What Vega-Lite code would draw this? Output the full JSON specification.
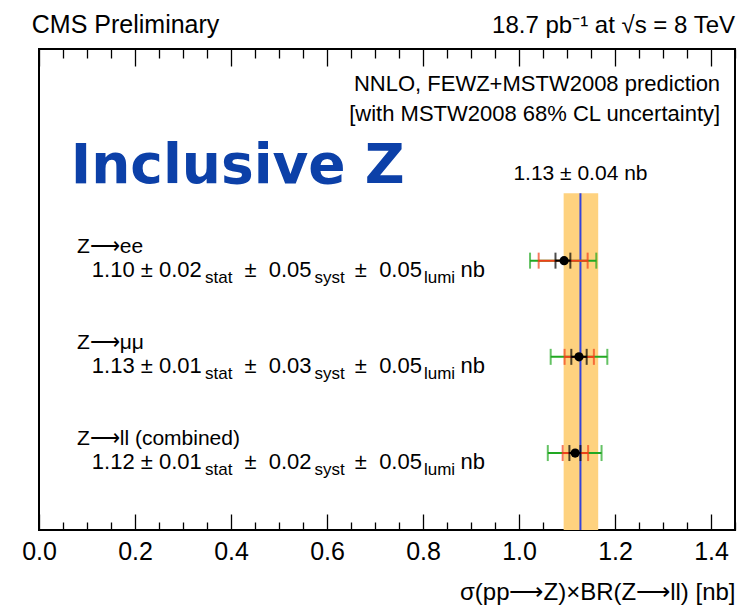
{
  "$schema": "https://vega.github.io/schema/vega-lite/v6.json",
  "width": 696,
  "height": 481,
  "autosize": {"type": "none"},
  "padding": {"left": 39, "top": 49, "right": 4, "bottom": 78},
  "background": "white",
  "config": {
    "view": {"stroke": "black", "strokeWidth": 2},
    "font": "Liberation Sans"
  },
  "datasets": {
    "band": [{"lo": 1.093, "hi": 1.165, "center": 1.128, "top": 3.5, "bottom": 0}],
    "bars": [
      {"channel": "ee", "level": "total", "lo": 1.023, "hi": 1.161, "y": 2.8},
      {"channel": "mumu", "level": "total", "lo": 1.066, "hi": 1.184, "y": 1.8},
      {"channel": "ll", "level": "total", "lo": 1.060, "hi": 1.172, "y": 0.8},
      {"channel": "ee", "level": "stat+syst", "lo": 1.041, "hi": 1.143, "y": 2.8},
      {"channel": "mumu", "level": "stat+syst", "lo": 1.095, "hi": 1.156, "y": 1.8},
      {"channel": "ll", "level": "stat+syst", "lo": 1.091, "hi": 1.144, "y": 0.8},
      {"channel": "ee", "level": "stat", "lo": 1.076, "hi": 1.107, "y": 2.8},
      {"channel": "mumu", "level": "stat", "lo": 1.109, "hi": 1.141, "y": 1.8},
      {"channel": "ll", "level": "stat", "lo": 1.105, "hi": 1.128, "y": 0.8}
    ],
    "points": [
      {"channel": "ee", "value": 1.094, "y": 2.8},
      {"channel": "mumu", "value": 1.125, "y": 1.8},
      {"channel": "ll", "value": 1.117, "y": 0.8}
    ],
    "labels": [
      {"role": "headerLeft", "text": "CMS Preliminary", "x": -0.015, "y": 5.166},
      {"role": "headerRight", "text": "18.7 pb⁻¹  at √s = 8 TeV", "x": 1.45, "y": 5.166},
      {"role": "note", "text": "NNLO, FEWZ+MSTW2008 prediction", "x": 1.419, "y": 4.563},
      {"role": "note", "text": "[with MSTW2008 68% CL uncertainty]", "x": 1.419, "y": 4.252},
      {"role": "title", "text": "Inclusive Z", "x": 0.066, "y": 3.607},
      {"role": "prediction", "text": "1.13 ± 0.04 nb", "x": 1.128, "y": 3.64},
      {"role": "channel", "text": "Z⟶ee", "x": 0.079, "y": 2.88},
      {"role": "channel", "text": "Z⟶μμ", "x": 0.079, "y": 1.88},
      {"role": "channel", "text": "Z⟶ll (combined)", "x": 0.079, "y": 0.88},
      {"role": "value", "text": "1.10 ± 0.02", "x": 0.110, "y": 2.63},
      {"role": "sub", "text": "stat", "x": 0.346, "y": 2.63},
      {"role": "value", "text": "±\u00a0\u00a00.05", "x": 0.428, "y": 2.63},
      {"role": "sub", "text": "syst", "x": 0.574, "y": 2.63},
      {"role": "value", "text": "±\u00a0\u00a00.05", "x": 0.658, "y": 2.63},
      {"role": "sub", "text": "lumi", "x": 0.802, "y": 2.63},
      {"role": "value", "text": "nb", "x": 0.878, "y": 2.63},
      {"role": "value", "text": "1.13 ± 0.01", "x": 0.110, "y": 1.63},
      {"role": "sub", "text": "stat", "x": 0.346, "y": 1.63},
      {"role": "value", "text": "±\u00a0\u00a00.03", "x": 0.428, "y": 1.63},
      {"role": "sub", "text": "syst", "x": 0.574, "y": 1.63},
      {"role": "value", "text": "±\u00a0\u00a00.05", "x": 0.658, "y": 1.63},
      {"role": "sub", "text": "lumi", "x": 0.802, "y": 1.63},
      {"role": "value", "text": "nb", "x": 0.878, "y": 1.63},
      {"role": "value", "text": "1.12 ± 0.01", "x": 0.110, "y": 0.63},
      {"role": "sub", "text": "stat", "x": 0.346, "y": 0.63},
      {"role": "value", "text": "±\u00a0\u00a00.02", "x": 0.428, "y": 0.63},
      {"role": "sub", "text": "syst", "x": 0.574, "y": 0.63},
      {"role": "value", "text": "±\u00a0\u00a00.05", "x": 0.658, "y": 0.63},
      {"role": "sub", "text": "lumi", "x": 0.802, "y": 0.63},
      {"role": "value", "text": "nb", "x": 0.878, "y": 0.63}
    ]
  },
  "resolve": {"axis": {"x": "independent"}},
  "layer": [
    {
      "data": {"name": "band"},
      "mark": {"type": "rect", "color": "#fed27f"},
      "encoding": {
        "x": {
          "field": "lo", "type": "quantitative",
          "scale": {"domain": [0, 1.45], "nice": false, "zero": false},
          "axis": {
            "orient": "bottom",
            "values": [0, 0.2, 0.4, 0.6, 0.8, 1.0, 1.2, 1.4],
            "format": ".1f",
            "domain": false,
            "grid": false,
            "tickSize": -16,
            "tickWidth": 1.3,
            "tickColor": "black",
            "labelFont": "Liberation Sans",
            "labelFontSize": 25,
            "labelColor": "black",
            "labelPadding": 25,
            "labelFlush": false,
            "title": "σ(pp⟶Z)×BR(Z⟶ll) [nb]",
            "titleFont": "Liberation Sans",
            "titleFontSize": 24,
            "titleFontWeight": "normal",
            "titleColor": "black",
            "titleAnchor": "end",
            "titlePadding": 16
          }
        },
        "x2": {"field": "hi"},
        "y": {"field": "top", "type": "quantitative", "scale": {"domain": [0, 5], "nice": false, "zero": false}, "axis": null},
        "y2": {"field": "bottom"}
      }
    },
    {
      "data": {"name": "band"},
      "mark": {"type": "rule", "color": "#3344dd", "strokeWidth": 2},
      "encoding": {
        "x": {
          "field": "center", "type": "quantitative",
          "axis": {
            "orient": "bottom",
            "values": [0.05, 0.1, 0.15, 0.25, 0.3, 0.35, 0.45, 0.5, 0.55, 0.65, 0.7, 0.75, 0.85, 0.9, 0.95, 1.05, 1.1, 1.15, 1.25, 1.3, 1.35, 1.45],
            "labels": false,
            "domain": false,
            "grid": false,
            "tickSize": -8,
            "tickWidth": 1.3,
            "tickColor": "black",
            "title": null
          }
        },
        "y": {"field": "top", "type": "quantitative"},
        "y2": {"field": "bottom"}
      }
    },
    {
      "data": {"name": "bars"},
      "mark": {"type": "rule", "strokeWidth": 2},
      "encoding": {
        "x": {
          "field": "lo", "type": "quantitative",
          "axis": {
            "orient": "top",
            "values": [0, 0.2, 0.4, 0.6, 0.8, 1.0, 1.2, 1.4],
            "labels": false,
            "domain": false,
            "grid": false,
            "tickSize": -17,
            "tickWidth": 1.3,
            "tickColor": "black",
            "title": null
          }
        },
        "x2": {"field": "hi"},
        "y": {"field": "y", "type": "quantitative"},
        "color": {
          "field": "level", "type": "nominal",
          "scale": {"domain": ["total", "stat+syst", "stat"], "range": ["#22a822", "#f2401a", "#000000"]},
          "legend": null
        }
      }
    },
    {
      "data": {"name": "bars"},
      "transform": [{"fold": ["lo", "hi"], "as": ["end", "pos"]}],
      "mark": {"type": "tick", "orient": "vertical", "size": 16, "thickness": 2},
      "encoding": {
        "x": {
          "field": "pos", "type": "quantitative",
          "axis": {
            "orient": "top",
            "values": [0.05, 0.1, 0.15, 0.25, 0.3, 0.35, 0.45, 0.5, 0.55, 0.65, 0.7, 0.75, 0.85, 0.9, 0.95, 1.05, 1.1, 1.15, 1.25, 1.3, 1.35, 1.45],
            "labels": false,
            "domain": false,
            "grid": false,
            "tickSize": -9,
            "tickWidth": 1.3,
            "tickColor": "black",
            "title": null
          }
        },
        "y": {"field": "y", "type": "quantitative"},
        "color": {"field": "level", "type": "nominal", "legend": null}
      }
    },
    {
      "data": {"name": "points"},
      "mark": {"type": "point", "filled": true, "color": "black", "size": 85, "opacity": 1},
      "encoding": {
        "x": {"field": "value", "type": "quantitative", "axis": null},
        "y": {"field": "y", "type": "quantitative"}
      }
    },
    {
      "data": {"name": "labels"},
      "transform": [{"filter": "datum.role === 'headerLeft'"}],
      "mark": {"type": "text", "align": "left", "baseline": "alphabetic", "font": "Liberation Sans", "fontSize": 25, "color": "black"},
      "encoding": {
        "x": {"field": "x", "type": "quantitative", "axis": null},
        "y": {"field": "y", "type": "quantitative"},
        "text": {"field": "text"}
      }
    },
    {
      "data": {"name": "labels"},
      "transform": [{"filter": "datum.role === 'headerRight'"}],
      "mark": {"type": "text", "align": "right", "baseline": "alphabetic", "font": "Liberation Sans", "fontSize": 24, "color": "black"},
      "encoding": {
        "x": {"field": "x", "type": "quantitative", "axis": null},
        "y": {"field": "y", "type": "quantitative"},
        "text": {"field": "text"}
      }
    },
    {
      "data": {"name": "labels"},
      "transform": [{"filter": "datum.role === 'note'"}],
      "mark": {"type": "text", "align": "right", "baseline": "alphabetic", "font": "Liberation Sans", "fontSize": 22, "color": "black"},
      "encoding": {
        "x": {"field": "x", "type": "quantitative", "axis": null},
        "y": {"field": "y", "type": "quantitative"},
        "text": {"field": "text"}
      }
    },
    {
      "data": {"name": "labels"},
      "transform": [{"filter": "datum.role === 'title'"}],
      "mark": {"type": "text", "align": "left", "baseline": "alphabetic", "font": "DejaVu Sans", "fontWeight": "bold", "fontSize": 55, "color": "#0c40a8"},
      "encoding": {
        "x": {"field": "x", "type": "quantitative", "axis": null},
        "y": {"field": "y", "type": "quantitative"},
        "text": {"field": "text"}
      }
    },
    {
      "data": {"name": "labels"},
      "transform": [{"filter": "datum.role === 'prediction'"}],
      "mark": {"type": "text", "align": "center", "baseline": "alphabetic", "font": "Liberation Sans", "fontSize": 21, "color": "black"},
      "encoding": {
        "x": {"field": "x", "type": "quantitative", "axis": null},
        "y": {"field": "y", "type": "quantitative"},
        "text": {"field": "text"}
      }
    },
    {
      "data": {"name": "labels"},
      "transform": [{"filter": "datum.role === 'channel'"}],
      "mark": {"type": "text", "align": "left", "baseline": "alphabetic", "font": "Liberation Sans", "fontSize": 21, "color": "black"},
      "encoding": {
        "x": {"field": "x", "type": "quantitative", "axis": null},
        "y": {"field": "y", "type": "quantitative"},
        "text": {"field": "text"}
      }
    },
    {
      "data": {"name": "labels"},
      "transform": [{"filter": "datum.role === 'value'"}],
      "mark": {"type": "text", "align": "left", "baseline": "alphabetic", "font": "Liberation Sans", "fontSize": 22, "color": "black"},
      "encoding": {
        "x": {"field": "x", "type": "quantitative", "axis": null},
        "y": {"field": "y", "type": "quantitative"},
        "text": {"field": "text"}
      }
    },
    {
      "data": {"name": "labels"},
      "transform": [{"filter": "datum.role === 'sub'"}],
      "mark": {"type": "text", "align": "left", "baseline": "alphabetic", "dy": 6, "font": "Liberation Sans", "fontSize": 17, "color": "black"},
      "encoding": {
        "x": {"field": "x", "type": "quantitative", "axis": null},
        "y": {"field": "y", "type": "quantitative"},
        "text": {"field": "text"}
      }
    }
  ]
}
